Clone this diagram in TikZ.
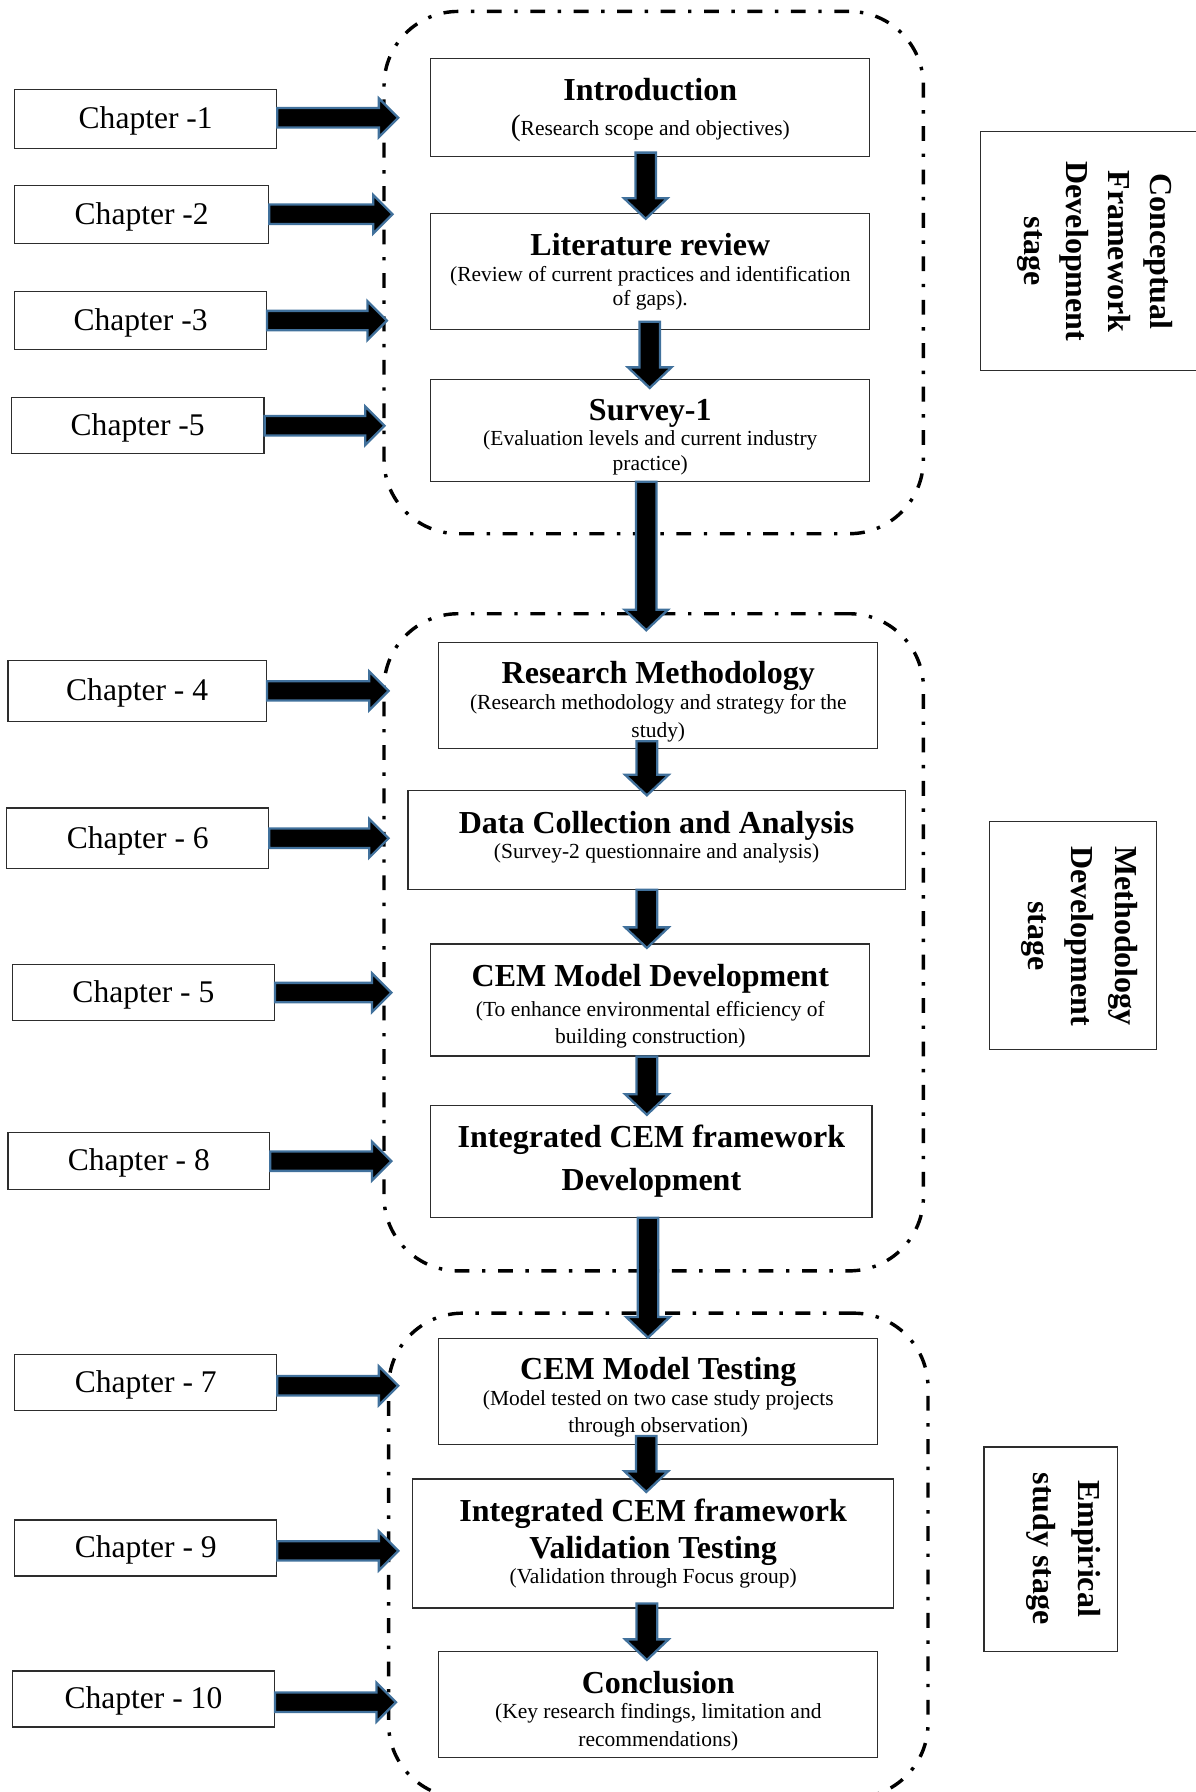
\documentclass[tikz,border=0pt]{standalone}
\usepackage{fontspec}
\setmainfont{Liberation Serif}
\usetikzlibrary{calc}

\definecolor{arrowrim}{RGB}{65,113,156}
\definecolor{boxline}{RGB}{45,45,45}

\newcommand\ttlfont{\fontsize{28}{37}\selectfont\bfseries}
\newcommand\subfont{\fontsize{18.8}{22}\selectfont\mdseries}
% invisible strut that sets the height of a first line
\newcommand\tstrut[1]{\rule{0pt}{#1pt}}
% invisible strut that sets the depth of a last line
\newcommand\bstrut[1]{\rule[-#1pt]{0pt}{0pt}}

% block arrow pointing right: #1 start of the shaft, #2 tip
\newcommand\blockright[2]{%
  \path[blockarrow] let \p1=#1, \p2=#2 in
    (\x1,\y1+8.5pt) -- (\x2-17pt,\y1+8.5pt) -- (\x2-17pt,\y1+17pt) -- (\x2,\y1)
    -- (\x2-17pt,\y1-17pt) -- (\x2-17pt,\y1-8.5pt) -- (\x1,\y1-8.5pt) -- cycle;}

% block arrow pointing down: #1 start of the shaft, #2 tip
\newcommand\blockdown[2]{%
  \path[blockarrow] let \p1=#1, \p2=#2 in
    (\x1-9pt,\y1) -- (\x1-9pt,\y2+18pt) -- (\x1-19pt,\y2+18pt) -- (\x1,\y2)
    -- (\x1+19pt,\y2+18pt) -- (\x1+9pt,\y2+18pt) -- (\x1+9pt,\y1) -- cycle;}

\begin{document}
\begin{tikzpicture}[x=1pt,y=-1pt,
  framebox/.style={draw=boxline, line width=1.1pt, fill=white, inner sep=0pt,
    align=center, execute at begin node={\lineskiplimit=-100pt}},
  chapbox/.style={framebox, font=\fontsize{27.6}{33}\selectfont,
    execute at begin node={\tstrut{23}}},
  stepbox/.style={framebox, font=\subfont},
  stagebox/.style={draw=boxline, line width=1.1pt, inner sep=0pt},
  stagetext/.style={rotate=-90, inner sep=0pt, align=center,
    execute at begin node={\lineskiplimit=-100pt}},
  groupbox/.style={draw=black, line width=3pt, rounded corners=65pt, inner sep=0pt,
    dash pattern=on 13pt off 11pt on 3pt off 11pt},
  blockarrow/.style={fill=black, draw=arrowrim, line width=2pt, line join=miter},
]
\useasboundingbox (0,0) rectangle (1046,1568);

% stage groups
\node[groupbox, minimum width=472pt, minimum height=457pt] (g1) at (572,238.5) {};
\node[groupbox, minimum width=472pt, minimum height=575pt] (g2) at (572,824.5) {};
\node[groupbox, minimum width=472pt, minimum height=424pt] (g3) at (576,1361) {};

% process steps (each line of a node is set on its own; titles carry their font per line)
\node[stepbox, minimum width=384pt, minimum height=86pt] (intro) at (569,94)
  {\ttlfont\tstrut{24}Introduction\\[9pt]{\fontsize{26}{22}\selectfont(}Research scope and objectives)};
\node[stepbox, minimum width=384pt, minimum height=101pt] (lit) at (569,237.5)
  {\ttlfont Literature review\\[1pt](Review of current practices and identification\\[-1pt]of gaps).};
\node[stepbox, minimum width=384pt, minimum height=89pt] (survey) at (569,376.5)
  {\ttlfont\tstrut{31}Survey-1\\(Evaluation levels and current industry\\practice)};
\node[stepbox, minimum width=384pt, minimum height=93pt] (resm) at (576,608.5)
  {\ttlfont\tstrut{31}Research Methodology\\[0pt](Research methodology and strategy for the\\[3pt]study)};
\node[stepbox, minimum width=435pt, minimum height=86pt] (data) at (574.5,735)
  {\ttlfont Data Collection and Analysis\\(Survey-2 questionnaire and analysis)\bstrut{9}};
\node[stepbox, minimum width=384pt, minimum height=98pt] (cemdev) at (569,875)
  {\ttlfont\tstrut{31}CEM Model Development\\[4pt](To enhance environmental efficiency of\\[2pt]building construction)};
\node[stepbox, minimum width=386pt, minimum height=98pt] (integ) at (570,1016)
  {\ttlfont Integrated CEM framework\\[15pt]\ttlfont Development};
\node[stepbox, minimum width=384pt, minimum height=93pt] (cemtest) at (576,1217.5)
  {\ttlfont\tstrut{30}CEM Model Testing\\(Model tested on two case study projects\\[2pt]through observation)};
\node[stepbox, minimum width=421pt, minimum height=113pt] (valid) at (571.5,1350.5)
  {\ttlfont Integrated CEM framework\\[10pt]\ttlfont Validation Testing\\(Validation through Focus group)};
\node[stepbox, minimum width=384pt, minimum height=93pt] (concl) at (576,1491.5)
  {\ttlfont\tstrut{31}Conclusion\\(Key research findings, limitation and\\[2pt]recommendations)};

% chapter labels
\node[chapbox, minimum width=229pt, minimum height=52pt] (c1) at (127.5,104) {Chapter -1};
\node[chapbox, minimum width=222pt, minimum height=51pt] (c2) at (124,187.5) {Chapter -2};
\node[chapbox, minimum width=220pt, minimum height=51pt] (c3) at (123,280.5) {Chapter -3};
\node[chapbox, minimum width=221pt, minimum height=49pt] (c5a) at (120.5,372.5) {Chapter -5};
\node[chapbox, minimum width=226pt, minimum height=53pt] (c4) at (120,604.5) {Chapter - 4};
\node[chapbox, minimum width=229pt, minimum height=53pt] (c6) at (120.5,733.5) {Chapter - 6};
\node[chapbox, minimum width=229pt, minimum height=49pt] (c5b) at (125.5,868.5) {Chapter - 5};
\node[chapbox, minimum width=229pt, minimum height=50pt] (c8) at (121.5,1016) {Chapter - 8};
\node[chapbox, minimum width=229pt, minimum height=49pt] (c7) at (127.5,1209.5) {Chapter - 7};
\node[chapbox, minimum width=229pt, minimum height=49pt] (c9) at (127.5,1354.5) {Chapter - 9};
\node[chapbox, minimum width=229pt, minimum height=49pt] (c10) at (125.5,1486.5) {Chapter - 10};

% stage labels
\node[stagebox, minimum width=207pt, minimum height=209pt] (s1) at (961.5,219.5) {};
\node[stagetext, font=\fontsize{28}{36.7}\selectfont\bfseries] (s1t) at (958.5,220)
  {Conceptual\\Framework\\Development\\stage};
\node[stagebox, minimum width=146pt, minimum height=199pt] (s2) at (939,818.5) {};
\node[stagetext, font=\fontsize{28}{38}\selectfont\bfseries] (s2t) at (944.5,819)
  {Methodology\\Development\\stage};
\node[stagebox, minimum width=117pt, minimum height=179pt] (s3) at (919.5,1355.5) {};
\node[stagetext, font=\fontsize{28}{40}\selectfont\bfseries] (s3t) at (930.5,1355)
  {Empirical\\study stage};

% flow between steps
\blockdown{($(intro.south)+(-4,-4)$)}{($(lit.north)+(0,5)$)}
\blockdown{($(lit.south)+(-0.5,-7)$)}{($(survey.north)+(0,8)$)}
\blockdown{($(survey.south)+(-3.5,0)$)}{($(resm.north)+(0,-10)$)}
\blockdown{($(resm.south)+(-10,-7)$)}{($(data.north)+(0,4.5)$)}
\blockdown{($(data.south)+(-8.5,0)$)}{($(cemdev.north)+(0,4)$)}
\blockdown{($(cemdev.south)+(-3,0)$)}{($(integ.north)+(0,9)$)}
\blockdown{($(integ.south)+(-3,0)$)}{(cemtest.north)}
\blockdown{($(cemtest.south)+(-10.5,-8)$)}{($(valid.north)+(0,12)$)}
\blockdown{($(valid.south)+(-5.5,-4.5)$)}{($(concl.north)+(0,8)$)}

% chapters feeding the stages
\blockright{($(c1.east)+(0,-1)$)}{($(c1.east -| g1.west)+(14,-1)$)}
\blockright{(c2.east)}{($(c2.east -| g1.west)+(9,0)$)}
\blockright{(c3.east)}{($(c3.east -| g1.west)+(4,0)$)}
\blockright{(c5a.east)}{($(c5a.east -| g1.west)+(2,0)$)}
\blockright{(c4.east)}{($(c4.east -| g2.west)+(5.5,0)$)}
\blockright{(c6.east)}{($(c6.east -| g2.west)+(5.5,0)$)}
\blockright{(c5b.east)}{($(c5b.east -| g2.west)+(8,0)$)}
\blockright{(c8.east)}{($(c8.east -| g2.west)+(8,0)$)}
\blockright{($(c7.east)+(0,3)$)}{($(c7.east -| g3.west)+(10,3)$)}
\blockright{($(c9.east)+(0,2.5)$)}{($(c9.east -| g3.west)+(10,2.5)$)}
\blockright{($(c10.east)+(0,3)$)}{($(c10.east -| g3.west)+(8,3)$)}
\end{tikzpicture}
\end{document}
